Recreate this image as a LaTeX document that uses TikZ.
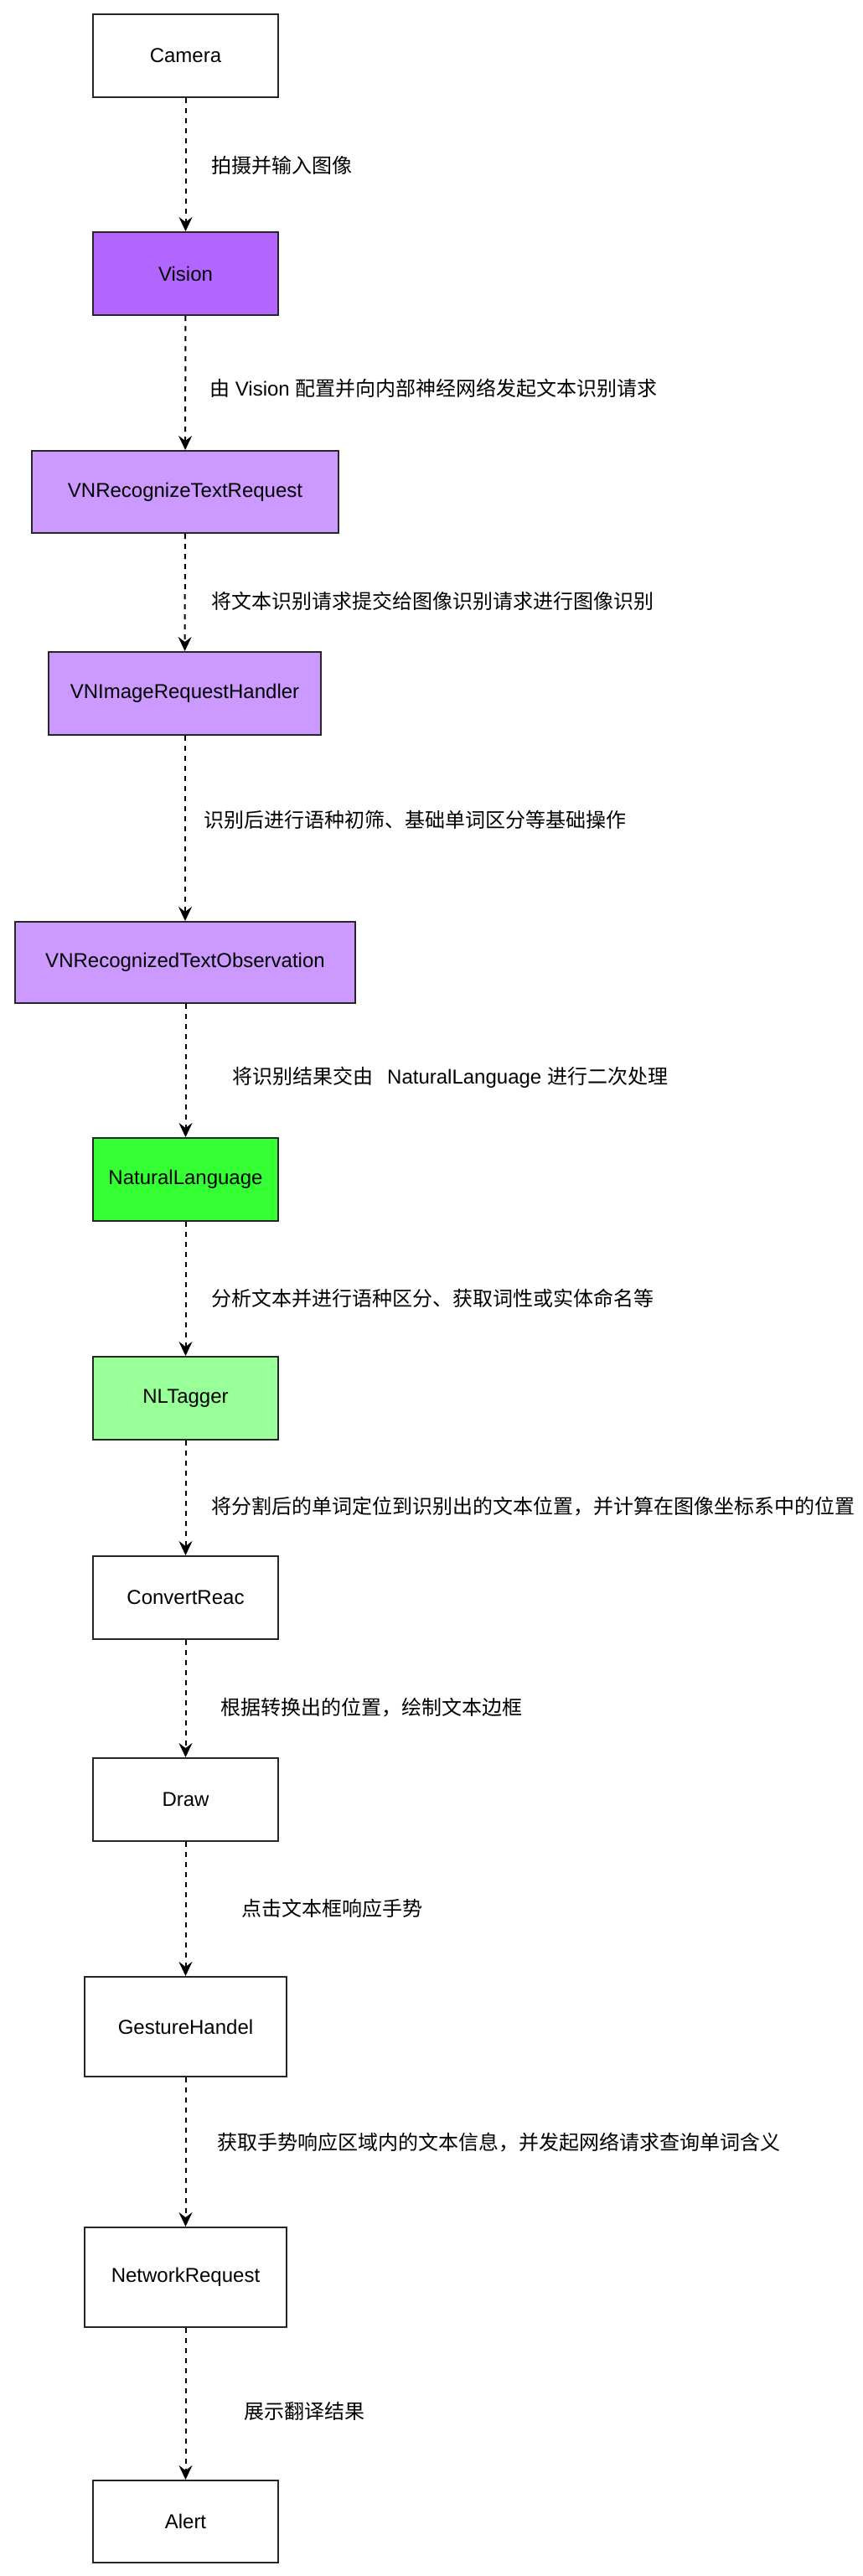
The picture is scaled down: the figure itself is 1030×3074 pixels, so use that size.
\documentclass[tikz,border=0pt]{standalone}
\usepackage{fontspec}
\setmainfont{Liberation Sans}
\newfontfamily\cjk{Noto Sans CJK SC}
\usetikzlibrary{arrows.meta}
\definecolor{boxline}{HTML}{262626}
\definecolor{visfill}{HTML}{B266FF}
\definecolor{vnfill}{HTML}{CC99FF}
\definecolor{nlfill}{HTML}{33FF33}
\definecolor{tagfill}{HTML}{99FF99}
\begin{document}
\begin{tikzpicture}[x=1pt,y=-1pt,
  box/.style={draw=boxline, line width=2pt, fill=white, inner sep=0pt,
    font=\fontsize{24}{28}\selectfont, text=black},
  lbl/.style={anchor=west, inner sep=0pt, font=\fontsize{24}{28}\selectfont, text=black},
  flow/.style={draw=black, line width=2pt, dash pattern=on 6pt off 6pt,
    -{Stealth[length=17pt,width=16pt,inset=6pt]}}]
\useasboundingbox[fill=white] (0,0) rectangle (1030,3074);

\node[box, minimum width=221pt, minimum height=99pt] (camera) at (221.5,66.5) {Camera};
\node[box, fill=visfill, minimum width=221pt, minimum height=99pt] (vision) at (221.5,326.5) {Vision};
\node[box, fill=vnfill, minimum width=366pt, minimum height=98pt] (vnreq) at (221,587) {VNRecognizeTextRequest};
\node[box, fill=vnfill, minimum width=325pt, minimum height=99pt] (vnhandler) at (220.5,827.5) {VNImageRequestHandler};
\node[box, fill=vnfill, minimum width=406pt, minimum height=97pt] (vnobs) at (221,1148.5) {VNRecognizedTextObservation};
\node[box, fill=nlfill, minimum width=221pt, minimum height=99pt] (nl) at (221.5,1407.5) {NaturalLanguage};
\node[box, fill=tagfill, minimum width=221pt, minimum height=99pt] (tagger) at (221.5,1668.5) {NLTagger};
\node[box, minimum width=221pt, minimum height=99pt] (convert) at (221.5,1906.5) {ConvertReac};
\node[box, minimum width=221pt, minimum height=99pt] (drawn) at (221.5,2147.5) {Draw};
\node[box, minimum width=241pt, minimum height=119pt] (gesture) at (221.5,2418.5) {GestureHandel};
\node[box, minimum width=241pt, minimum height=119pt] (network) at (221.5,2717.5) {NetworkRequest};
\node[box, minimum width=221pt, minimum height=98pt] (alert) at (221.5,3009) {Alert};

\draw[flow] (camera) -- (vision);
\draw[flow] (vision) -- (vnreq);
\draw[flow] (vnreq) -- (vnhandler);
\draw[flow] (vnhandler.south -| vnreq.south) -- (vnobs.north -| vnreq.south);
\draw[flow] (vnobs.south -| camera.south) -- (nl);
\draw[flow] (nl) -- (tagger);
\draw[flow] (tagger) -- (convert);
\draw[flow] (convert) -- (drawn);
\draw[flow] (drawn) -- (gesture);
\draw[flow] (gesture) -- (network);
\draw[flow] (network) -- (alert);

\node[lbl] (l1) at (252,197) {\cjk 拍摄并输入图像};
\node[lbl] (l2) at (250,463) {{\cjk 由} Vision {\cjk 配置并向内部神经网络发起文本识别请求}};
\node[lbl] (l3) at (252,717) {\cjk 将文本识别请求提交给图像识别请求进行图像识别};
\node[lbl] (l4) at (243,978) {\cjk 识别后进行语种初筛、基础单词区分等基础操作};
\node[lbl] (l5) at (277,1286) {{\cjk 将识别结果交由}\hspace{17pt}NaturalLanguage {\cjk 进行二次处理}};
\node[lbl] (l6) at (252,1549) {\cjk 分析文本并进行语种区分、获取词性或实体命名等};
\node[lbl] (l7) at (252,1798) {\cjk 将分割后的单词定位到识别出的文本位置，并计算在图像坐标系中的位置};
\node[lbl] (l8) at (263,2038) {\cjk 根据转换出的位置，绘制文本边框};
\node[lbl] (l9) at (288,2277) {\cjk 点击文本框响应手势};
\node[lbl] (l10) at (259,2557) {\cjk 获取手势响应区域内的文本信息，并发起网络请求查询单词含义};
\node[lbl] (l11) at (291,2877) {\cjk 展示翻译结果};
\end{tikzpicture}
\end{document}
